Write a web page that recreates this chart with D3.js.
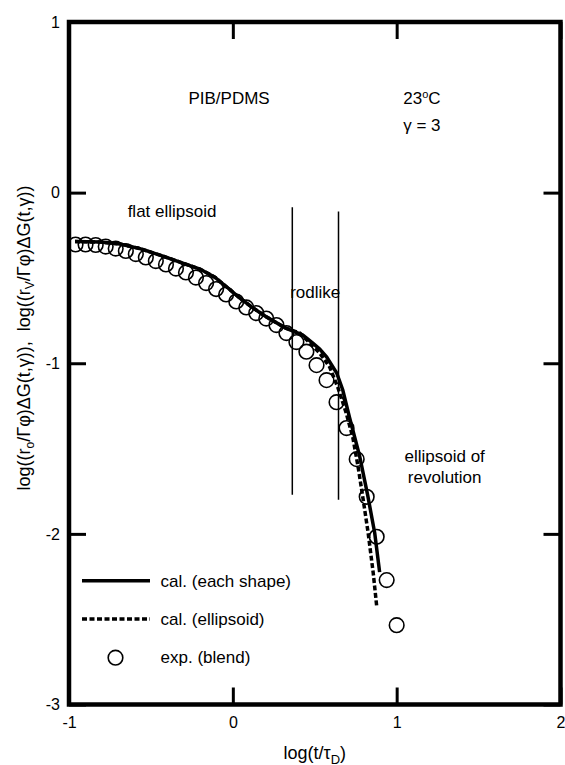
<!DOCTYPE html>
<html>
<head>
<meta charset="utf-8">
<script src="https://cdn.jsdelivr.net/npm/d3@7"></script>
<style>
  body { margin: 0; background: #fff; }
  svg text { font-family: "Liberation Sans", Arial, sans-serif; fill: #000; }
</style>
</head>
<body>
<div id="chart"></div>
<script>
// experimental points (blend)
var expX = [-0.960, -0.899, -0.837, -0.776, -0.715, -0.653, -0.592, -0.531, -0.470, -0.408,
            -0.347, -0.286, -0.225, -0.163, -0.102, -0.041, 0.021, 0.082, 0.143, 0.204,
            0.266, 0.327, 0.388, 0.449, 0.511, 0.572, 0.633, 0.694, 0.756, 0.817,
            0.878, 0.939, 1.000];
var expY = [-0.304, -0.304, -0.307, -0.316, -0.328, -0.342, -0.360, -0.380, -0.401, -0.421,
            -0.445, -0.468, -0.498, -0.530, -0.565, -0.597, -0.638, -0.673, -0.706, -0.738,
            -0.776, -0.823, -0.876, -0.932, -1.011, -1.099, -1.228, -1.380, -1.562, -1.783,
            -2.017, -2.271, -2.535];

// calculation, each shape (solid)
var eachX = [-0.963, -0.811, -0.689, -0.567, -0.445, -0.323, -0.201, -0.110, -0.030, 0.043,
             0.116, 0.201, 0.323, 0.427, 0.488, 0.530, 0.573, 0.634, 0.671, 0.713,
             0.774, 0.823, 0.866, 0.896];
var eachY = [-0.287, -0.290, -0.301, -0.328, -0.366, -0.407, -0.448, -0.495, -0.559, -0.618,
             -0.671, -0.726, -0.794, -0.835, -0.882, -0.917, -0.964, -1.057, -1.157, -1.321,
             -1.544, -1.773, -1.995, -2.224];

// calculation, ellipsoid (dashed)
var ellX = [-0.963, -0.811, -0.689, -0.567, -0.445, -0.323, -0.201, -0.110, -0.030, 0.043,
            0.116, 0.201, 0.323, 0.409, 0.470, 0.530, 0.591, 0.640, 0.692, 0.732,
            0.765, 0.796, 0.826, 0.857, 0.878];
var ellY = [-0.287, -0.290, -0.301, -0.328, -0.366, -0.407, -0.448, -0.495, -0.559, -0.618,
            -0.671, -0.726, -0.794, -0.823, -0.882, -0.940, -1.022, -1.139, -1.292, -1.433,
            -1.609, -1.802, -1.995, -2.230, -2.423];

// region dividers
var divX = [0.363, 0.645];
var divTop = [-0.085, -0.11];
var divBottom = [-1.77, -1.80];

var xTicks = [-1, 0, 1, 2];
var yTicks = [-3, -2, -1, 0, 1];
var legendLabels = ["cal. (each shape)", "cal. (ellipsoid)", "exp. (blend)"];

(function () {
    var W = 565, H = 765;
    var mLeft = 69, mRight = 560.5, mTop = 22, mBottom = 704.5;

    var svg = d3.select("#chart").append("svg").attr("width", W).attr("height", H);

    var x = d3.scaleLinear().domain([-1, 2]).range([mLeft, mRight]);
    var y = d3.scaleLinear().domain([-3, 1]).range([mBottom, mTop]);

    var fmt = function (d) { return d < 0 ? "-" + Math.abs(d) : String(d); };

    // axes, ticks pointing inward
    var tickLen = 17;
    var gB = svg.append("g").attr("transform", "translate(0," + mBottom + ")")
        .call(d3.axisBottom(x).tickValues(xTicks).tickSizeInner(-tickLen).tickSizeOuter(0).tickPadding(12).tickFormat(fmt));
    var gT = svg.append("g").attr("transform", "translate(0," + mTop + ")")
        .call(d3.axisTop(x).tickValues(xTicks).tickSizeInner(-tickLen).tickSizeOuter(0).tickFormat(""));
    var gL = svg.append("g").attr("transform", "translate(" + mLeft + ",0)")
        .call(d3.axisLeft(y).tickValues(yTicks).tickSizeInner(-tickLen).tickSizeOuter(0).tickPadding(9).tickFormat(fmt));
    var gR = svg.append("g").attr("transform", "translate(" + mRight + ",0)")
        .call(d3.axisRight(y).tickValues(yTicks).tickSizeInner(-tickLen).tickSizeOuter(0).tickFormat(""));

    [gB, gT, gL, gR].forEach(function (g) {
        g.attr("font-size", 16).attr("font-family", "Liberation Sans, Arial, sans-serif");
        g.select(".domain").remove();
        g.selectAll(".tick line").attr("stroke", "#000").attr("stroke-width", 3);
    });

    // frame
    svg.append("rect")
        .attr("x", mLeft).attr("y", mTop)
        .attr("width", mRight - mLeft).attr("height", mBottom - mTop)
        .attr("fill", "none").attr("stroke", "#000").attr("stroke-width", 4.5);

    // divider lines
    divX.forEach(function (d, i) {
        svg.append("line")
            .attr("x1", x(d)).attr("x2", x(d))
            .attr("y1", y(divTop[i])).attr("y2", y(divBottom[i]))
            .attr("stroke", "#000").attr("stroke-width", 1.5);
    });

    var line = d3.line().x(function (d) { return x(d[0]); }).y(function (d) { return y(d[1]); });

    // ellipsoid (dashed)
    svg.append("path")
        .datum(ellX.map(function (d, i) { return [d, ellY[i]]; }))
        .attr("d", line).attr("fill", "none").attr("stroke", "#000")
        .attr("stroke-width", 3.5).attr("stroke-dasharray", "5,2.5");

    // each shape (solid)
    svg.append("path")
        .datum(eachX.map(function (d, i) { return [d, eachY[i]]; }))
        .attr("d", line).attr("fill", "none").attr("stroke", "#000")
        .attr("stroke-width", 3.5);

    // experimental circles
    svg.selectAll("circle.exp")
        .data(expX.map(function (d, i) { return [d, expY[i]]; }))
        .enter().append("circle").attr("class", "exp")
        .attr("cx", function (d) { return x(d[0]); })
        .attr("cy", function (d) { return y(d[1]); })
        .attr("r", 7.3)
        .attr("fill", "none").attr("stroke", "#000").attr("stroke-width", 1.6);

    // annotations
    function label(tx, ty, str, anchor) {
        return svg.append("text").attr("x", x(tx)).attr("y", y(ty))
            .attr("font-size", 17).attr("text-anchor", anchor || "middle").text(str);
    }
    label(-0.023, 0.519, "PIB/PDMS");
    var t23 = svg.append("text").attr("x", x(1.04)).attr("y", y(0.519)).attr("font-size", 17);
    t23.append("tspan").text("23");
    t23.append("tspan").attr("font-size", 11).attr("dy", -6).text("o");
    t23.append("tspan").attr("dy", 6).text("C");
    label(1.04, 0.361, "\u03b3 = 3", "start");
    label(-0.371, -0.143, "flat ellipsoid");
    label(0.503, -0.618, "rodlike");
    label(1.293, -1.577, "ellipsoid of");
    label(1.293, -1.702, "revolution");

    // legend
    var lg = svg.append("g");
    lg.append("line").attr("x1", 82).attr("x2", 150).attr("y1", 580.7).attr("y2", 580.7)
        .attr("stroke", "#000").attr("stroke-width", 3.5);
    lg.append("line").attr("x1", 82).attr("x2", 150).attr("y1", 619).attr("y2", 619)
        .attr("stroke", "#000").attr("stroke-width", 3.5).attr("stroke-dasharray", "5,2.5");
    lg.append("circle").attr("cx", 115.5).attr("cy", 657.7).attr("r", 7.3)
        .attr("fill", "none").attr("stroke", "#000").attr("stroke-width", 1.6);
    [586.7, 625, 663].forEach(function (yy, i) {
        lg.append("text").attr("x", 160.6).attr("y", yy).attr("font-size", 17).text(legendLabels[i]);
    });

    // axis titles
    var xt = svg.append("text").attr("x", (mLeft + mRight) / 2).attr("y", 759)
        .attr("font-size", 18).attr("text-anchor", "middle");
    xt.append("tspan").text("log(t/\u03c4");
    xt.append("tspan").attr("font-size", 13).attr("dy", 5).text("D");
    xt.append("tspan").attr("dy", -5).text(")");

    var yt = svg.append("text").attr("transform", "translate(30,338) rotate(-90)")
        .attr("font-size", 18).attr("text-anchor", "middle").style("white-space", "pre");
    yt.append("tspan").text("log((r");
    yt.append("tspan").attr("font-size", 12).attr("dy", 4).text("o");
    yt.append("tspan").attr("dy", -4).text("/\u0393\u03c6)\u0394G(t,\u03b3)),  log((r");
    yt.append("tspan").attr("font-size", 12).attr("dy", 4).text("V");
    yt.append("tspan").attr("dy", -4).text("/\u0393\u03c6)\u0394G(t,\u03b3))");
})();
</script>
</body>
</html>
